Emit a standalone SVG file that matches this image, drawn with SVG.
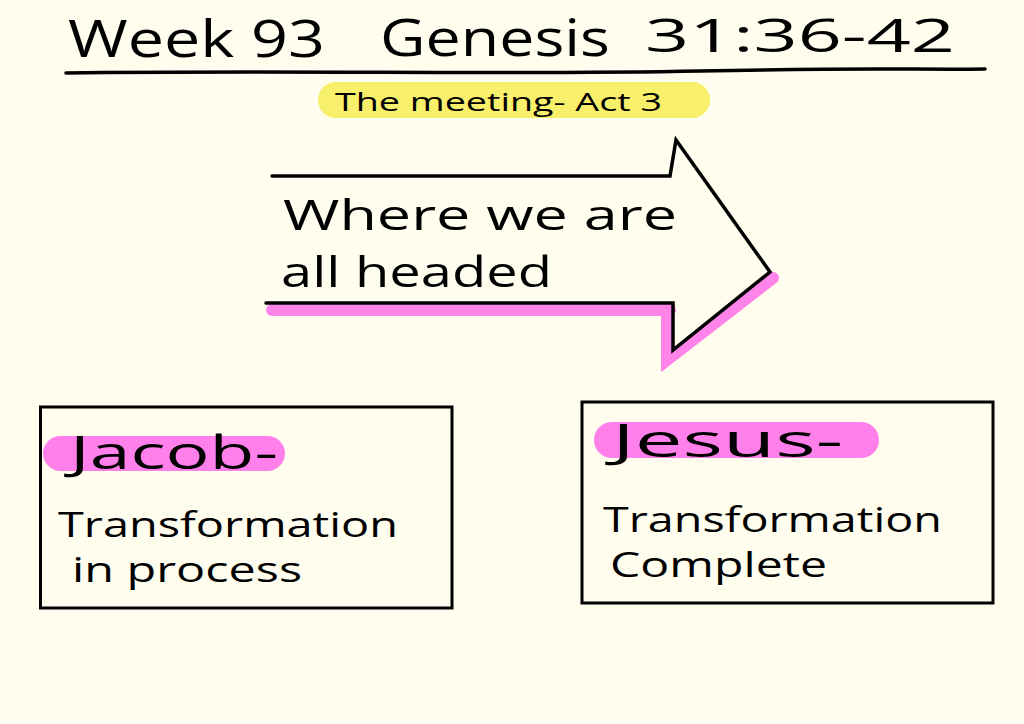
<svg xmlns="http://www.w3.org/2000/svg" width="1024" height="724" viewBox="0 0 1024 724">
<style>
.ink{font-family:"Open Sans","Liberation Sans",sans-serif;fill:#000;}
.line{fill:none;stroke:#000;stroke-width:3.5;stroke-linejoin:miter;stroke-linecap:round;}
.box{fill:none;stroke:#000;stroke-width:3;}
.pink{fill:#ff80eb;}
.hl{fill:none;stroke:#ff33e6;stroke-opacity:0.6;stroke-width:12;stroke-linecap:round;}
</style>
<rect width="1024" height="724" fill="#fefdee"/>
<g id="title">
<text class="ink" x="68" y="57" font-size="52" textLength="257" lengthAdjust="spacingAndGlyphs">Week 93</text>
<text class="ink" x="380" y="56" font-size="52" textLength="230" lengthAdjust="spacingAndGlyphs">Genesis</text>
<text class="ink" x="645" y="52" font-size="46" textLength="310" lengthAdjust="spacingAndGlyphs">31:36-42</text>
<path class="line" d="M66,73 C300,70 500,75 700,71 S900,70 985,69" stroke-width="4"/>
</g>
<g id="subtitle">
<rect x="318" y="82" width="392" height="36" rx="18" fill="#f8f06a"/>
<text class="ink" x="335" y="111" font-size="25" textLength="327" lengthAdjust="spacingAndGlyphs">The meeting- Act 3</text>
</g>
<g id="arrow">
<path class="hl" d="M272,310 L670,310 M667,308 L667,360 L773,278"/>
<path class="line" d="M272,176 L670,176 L676,140 L770,272 L673,350 L673,303 L266,303"/>
<text class="ink" x="283" y="230" font-size="42" textLength="394" lengthAdjust="spacingAndGlyphs">Where we are</text>
<text class="ink" x="281" y="287" font-size="42" textLength="271" lengthAdjust="spacingAndGlyphs">all headed</text>
</g>
<g id="jacob">
<rect class="box" x="40.5" y="407" width="411.5" height="201"/>
<rect class="pink" x="43" y="436" width="242" height="35" rx="17.5"/>
<text class="ink" x="70" y="469" font-size="45" textLength="208" lengthAdjust="spacingAndGlyphs">Jacob-</text>
<text class="ink" x="58" y="537" font-size="34" textLength="340" lengthAdjust="spacingAndGlyphs">Transformation</text>
<text class="ink" x="72" y="582" font-size="34" textLength="230" lengthAdjust="spacingAndGlyphs">in process</text>
</g>
<g id="jesus">
<rect class="box" x="582" y="402" width="411" height="201"/>
<rect class="pink" x="594" y="422" width="285" height="36" rx="18"/>
<text class="ink" x="612" y="457" font-size="45" textLength="231" lengthAdjust="spacingAndGlyphs">Jesus-</text>
<text class="ink" x="603" y="532" font-size="34" textLength="339" lengthAdjust="spacingAndGlyphs">Transformation</text>
<text class="ink" x="610" y="577" font-size="34" textLength="217" lengthAdjust="spacingAndGlyphs">Complete</text>
</g>
<g id="connectors"/>
</svg>
